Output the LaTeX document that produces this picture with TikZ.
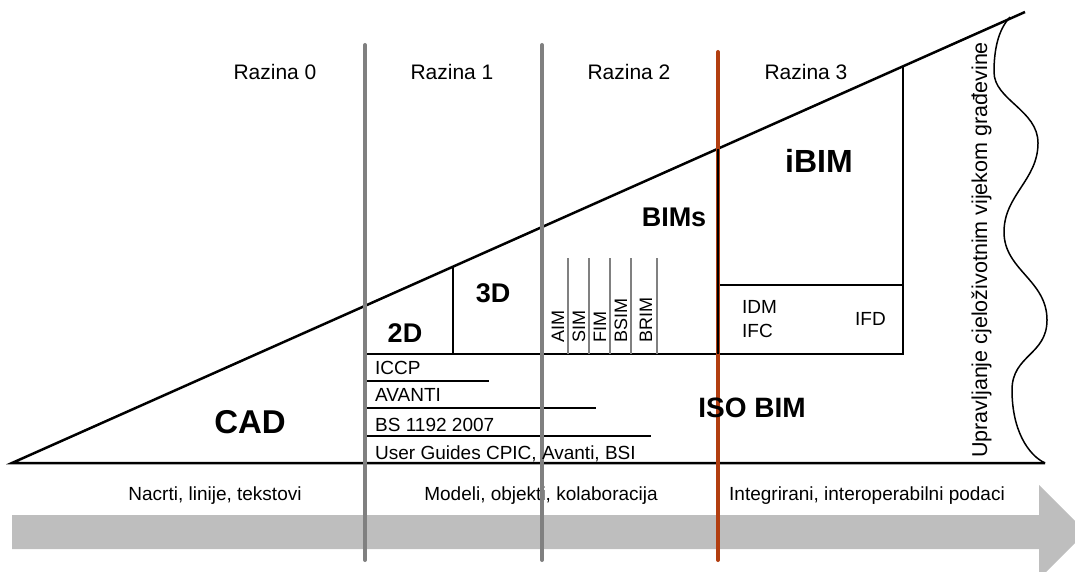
\documentclass[tikz,border=0pt]{standalone}
\usepackage{fontspec}
\setmainfont{Liberation Sans}
\usetikzlibrary{positioning}
\definecolor{arrowgray}{RGB}{190,190,190}
\definecolor{linegray}{RGB}{128,128,128}
\definecolor{rust}{RGB}{178,62,16}

\begin{document}
\begin{tikzpicture}[x=1pt,y=-1pt,node distance=177pt,
    razina/.style={font=\fontsize{21}{24}\selectfont,anchor=base},
    txt/.style={font=\fontsize{19}{22}\selectfont,inner sep=0pt},
    big/.style={font=\fontsize{#1}{#1}\selectfont\bfseries,anchor=base,inner sep=0pt},
    vert/.style={font=\fontsize{18}{20}\selectfont,rotate=90,anchor=base west,inner sep=0pt},
    thick line/.style={line width=2pt},
    rule/.style={line width=1.2pt}]
  \clip (0,0) rectangle (1075,572);
  % arrow at the bottom
  \fill[arrowgray] (12,515) -- (1039,515) -- (1039,485) -- (1086,532)
    -- (1039,579) -- (1039,549) -- (12,549) -- cycle;
  \node[txt,anchor=base] (nacrti)  at (215,500) {Nacrti, linije, tekstovi};
  \node[txt,anchor=base] (modeli)  at (541,500) {Modeli, objekti, kolaboracija};
  \node[txt,anchor=base] (podaci)  at (867,500) {Integrirani, interoperabilni podaci};

  % triangle
  \coordinate (a)   at (12,463);
  \coordinate (top) at (1025,12);
  \coordinate (b)   at (1045,463);
  \draw[line width=2.5pt,line join=miter] (b) -- (a) -- (top);
  \draw[line width=1.5pt] (1010,17) .. controls (998,30) and (994,50) .. (994,72)
    .. controls (994,100) and (1038,110) .. (1038,143)
    .. controls (1038,180) and (1004,195) .. (1004,232)
    .. controls (1004,270) and (1047,280) .. (1047,320)
    .. controls (1047,355) and (1012,355) .. (1012,390)
    .. controls (1012,430) and (1028,455) .. (1045,463);

  % fields inside
  \draw[thick line] (365,354) -- (903,354) -- (903,66.3);
  \draw[thick line] (453,266.7) -- (453,354);
  \draw[thick line] (718,285) -- (903,285);
  \draw[rule] (365,381) -- (489,381);
  \draw[rule] (365,408) -- (596,408);
  \draw[rule] (365,436) -- (651,436);
  \foreach \x in {568,589,610,631,657}
    \draw[linegray,line width=1.2pt] (\x,258) -- (\x,354);

  % levels
  \draw[linegray,line width=4pt,line cap=round] (365,45) -- (365,560);
  \draw[linegray,line width=4pt,line cap=round] (542,45) -- (542,560);
  \draw[rust,line width=4pt,line cap=round] (718,52) -- (718,560);
  \draw[line width=1.5pt] (718,148.7) -- (718,354);

  \node[razina] (r0) at (275,80) {Razina 0};
  \node[razina] (r1) [right of=r0] {Razina 1};
  \node[razina] (r2) [right of=r1] {Razina 2};
  \node[razina] (r3) [right of=r2] {Razina 3};

  \node[big=33] (cad)    at (250,433) {CAD};
  \node[big=27] (dva)    at (405,342) {2D};
  \node[big=27] (tri)    at (493,302) {3D};
  \node[big=27] (bims)   at (674,226) {BIMs};
  \node[big=32] (ibim)   at (819,173) {iBIM};
  \node[big=28] (isobim) at (752,417) {ISO BIM};

  \node[txt,anchor=base west] (iccp)   at (375,374) {ICCP};
  \node[txt,anchor=base west] (avanti) at (375,401) {AVANTI};
  \node[txt,anchor=base west] (bs)     at (375,431) {BS 1192 2007};
  \node[txt,anchor=base west] (guides) at (375,459) {User Guides CPIC, Avanti, BSI};

  \node[txt,anchor=base west] (idm) at (742,313) {IDM};
  \node[txt,anchor=base west] (ifc) at (742,337) {IFC};
  \node[txt,anchor=base west] (ifd) at (855,325) {IFD};

  \node[vert] (aim)  at (564,343) {AIM};
  \node[vert] (sim)  at (585,343) {SIM};
  \node[vert] (fim)  at (606,343) {FIM};
  \node[vert] (bsim) at (627,343) {BSIM};
  \node[vert] (brim) at (652,343) {BRIM};

  \node[vert,font=\fontsize{21.5}{24}\selectfont] (vijek) at (987,458)
    {Upravljanje cjeloživotnim vijekom građevine};
\end{tikzpicture}
\end{document}
